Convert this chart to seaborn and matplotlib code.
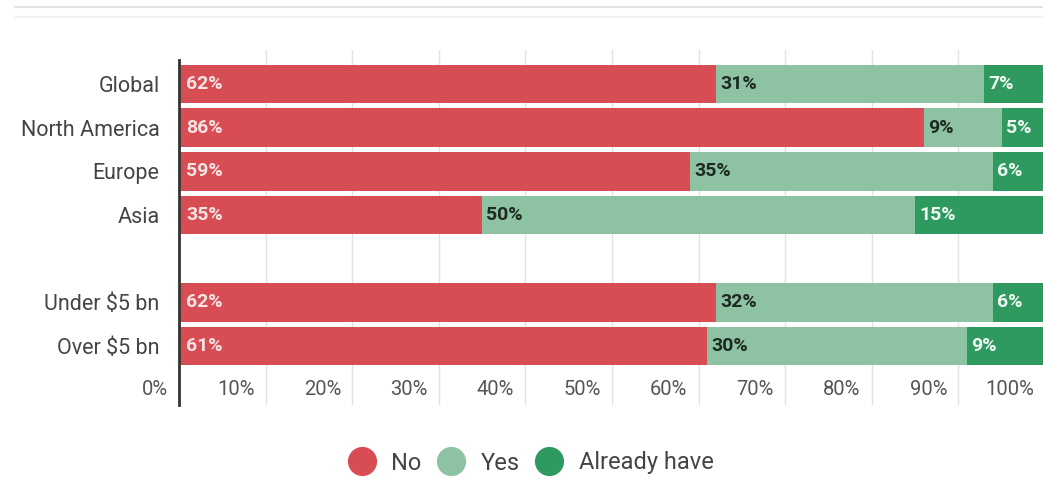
import pandas as pd
import matplotlib.pyplot as plt
import seaborn as sns
from matplotlib.lines import Line2D

groups = ["Global", "North America", "Europe", "Asia", "Under $5 bn", "Over $5 bn"]
no = [62, 86, 59, 35, 62, 61]
yes = [31, 9, 35, 50, 32, 30]
have = [7, 5, 6, 15, 6, 9]
order = ["Global", "North America", "Europe", "Asia", " ", "Under $5 bn", "Over $5 bn"]
ticks = [0, 10, 20, 30, 40, 50, 60, 70, 80, 90, 100]

df = pd.DataFrame({"Grupo": groups, "No": no, "Yes": yes, "Have": have})
df["NoYes"] = df["No"] + df["Yes"]
df["Total"] = df["NoYes"] + df["Have"]

c_no = "#d84d54"
c_yes = "#8dc3a3"
c_have = "#2e9a5f"

sns.set_style("white")
plt.rcParams["font.family"] = ["Roboto", "DejaVu Sans"]

fig = plt.figure(figsize=(10.43, 4.79), dpi=100)
ax = fig.add_axes([179 / 1043, 1 - 405 / 479, 866 / 1043, 355 / 479])

# barras apiladas: se dibuja el total y encima los acumulados
sns.barplot(data=df, y="Grupo", x="Total", order=order, color=c_have, width=0.89,
            saturation=1, orient="h", ax=ax, linewidth=0)
sns.barplot(data=df, y="Grupo", x="NoYes", order=order, color=c_yes, width=0.89,
            saturation=1, orient="h", ax=ax, linewidth=0)
sns.barplot(data=df, y="Grupo", x="No", order=order, color=c_no, width=0.89,
            saturation=1, orient="h", ax=ax, linewidth=0)

ax.set_xlim(0, 100)
ax.set_ylim(7.35, -0.78)
ax.set_xlabel("")
ax.set_ylabel("")

ax.set_xticks(ticks[1:-1])
ax.set_xticklabels([])
ax.tick_params(axis="x", length=0)
ax.grid(axis="x", color="#e2e2e2", linewidth=1)
ax.set_axisbelow(True)

ax.tick_params(axis="y", length=0, pad=14, labelsize=15.5, labelcolor="#444444")

for s in ["top", "right", "bottom"]:
    ax.spines[s].set_visible(False)
ax.spines["left"].set_color("#333333")
ax.spines["left"].set_linewidth(2)
ax.spines["left"].set_bounds(7.35, -0.55)

# etiquetas del eje x dentro del area
for t in ticks:
    ax.annotate(f"{t}%", xy=(t, 7), xytext=(-8, 0), textcoords="offset points",
                ha="right", va="center", fontsize=14.5, color="#555555")

# etiquetas de valores
for i, g in enumerate(groups):
    pos = order.index(g)
    r = df.iloc[i]
    ax.annotate(f"{r['No']}%", xy=(0, pos), xytext=(5, 0), textcoords="offset points",
                ha="left", va="center", fontsize=14, fontweight="bold", color="#f7e3e3")
    ax.annotate(f"{r['Yes']}%", xy=(r["No"], pos), xytext=(3, 0), textcoords="offset points",
                ha="left", va="center", fontsize=14, fontweight="bold", color="#1e2a22")
    ax.annotate(f"{r['Have']}%", xy=(r["NoYes"], pos), xytext=(3, 0), textcoords="offset points",
                ha="left", va="center", fontsize=14, fontweight="bold", color="#eef7f1")

handles = [Line2D([], [], marker="o", linestyle="", markersize=20, color=c, label=l)
           for c, l in zip([c_no, c_yes, c_have], ["No", "Yes", "Already have"])]
fig.legend(handles=handles, loc="center", bbox_to_anchor=(0.51, 1 - 463 / 479), ncol=3,
           frameon=False, fontsize=17, handletextpad=0.75, columnspacing=0.75,
           labelcolor="#444444", handlelength=1.0)

fig.add_artist(Line2D([15 / 1043, 1], [1 - 7 / 479, 1 - 7 / 479], color="#e3e3e3", linewidth=1.5))
fig.add_artist(Line2D([15 / 1043, 1], [1 - 17 / 479, 1 - 17 / 479], color="#f3f3f3", linewidth=1.5))

plt.savefig("out.png", dpi=100)
